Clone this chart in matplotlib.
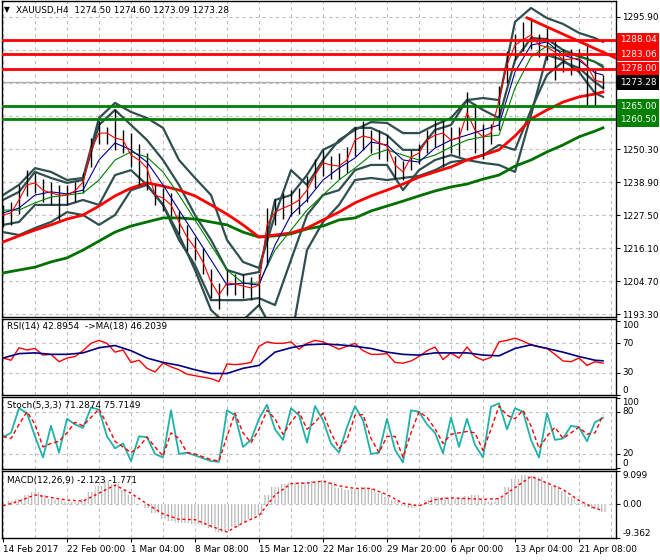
import numpy as np
import matplotlib
matplotlib.use('Agg')
import matplotlib.pyplot as plt
import matplotlib.transforms as mtransforms

plt.rcParams['font.family'] = ['DejaVu Sans']
plt.rcParams['hatch.linewidth'] = 0.9
FS = 6.4

# bar numbers (H4 bars since 14 Feb 2017) of the sampled points
bar_idx = np.arange(0, 301, 4)
ma_idx = np.append(np.arange(0, 297, 8), 300)

# price bars (sampled)
close = [1227.5, 1228.2, 1232.7, 1237.9, 1238.6, 1236.1, 1235.1, 1234.4, 1234.4, 1235.8,
         1238.9, 1250.0, 1255.8, 1255.8, 1254.1, 1253.4, 1248.2, 1246.5, 1243.7, 1234.4,
         1233.4, 1231.0, 1225.1, 1219.9, 1216.1, 1211.3, 1204.4, 1199.9, 1204.0, 1203.7,
         1203.0, 1202.3, 1203.3, 1224.1, 1228.5, 1229.9, 1231.0, 1232.7, 1236.1, 1241.3,
         1245.5, 1244.8, 1244.4, 1246.5, 1253.4, 1254.8, 1254.1, 1252.4, 1251.3, 1244.8,
         1242.4, 1247.5, 1248.9, 1253.4, 1255.1, 1255.8, 1253.4, 1254.1, 1262.7, 1256.9,
         1254.5, 1255.8, 1267.2, 1279.3, 1286.2, 1288.0, 1289.7, 1286.2, 1285.5, 1283.8,
         1281.1, 1281.4, 1281.7, 1279.0, 1274.1, 1273.3]
high = [1231, 1232, 1238, 1243, 1242, 1240, 1239, 1238, 1238, 1239,
        1242, 1254, 1260, 1258, 1264, 1257, 1256, 1252, 1249, 1238,
        1237, 1235, 1229, 1224, 1220, 1216, 1209, 1204, 1209, 1207,
        1207, 1206, 1207, 1230, 1233, 1235, 1236, 1237, 1241, 1247,
        1250, 1248, 1249, 1251, 1258, 1260, 1257, 1257, 1255, 1248,
        1246, 1250, 1252, 1257, 1261, 1261, 1258, 1258, 1270, 1266,
        1259, 1259, 1272, 1284, 1290, 1294, 1295.5, 1290, 1292, 1288,
        1285, 1285, 1285, 1287, 1278, 1276]
low = [1223.5, 1224, 1228, 1234, 1235, 1232, 1231, 1225.8, 1231, 1232,
       1235, 1244, 1252, 1252, 1250, 1249, 1244, 1238, 1236, 1231,
       1229, 1227, 1221, 1215, 1212, 1207, 1199, 1195, 1200, 1200,
       1199, 1198, 1196, 1210, 1224, 1226, 1227, 1228, 1232, 1237,
       1241, 1240, 1240, 1242, 1248, 1250, 1249, 1247, 1246, 1240,
       1239.5, 1243, 1245, 1249, 1251, 1244, 1249, 1248, 1257, 1249,
       1247, 1252, 1257, 1273, 1281, 1284, 1285, 1282, 1281, 1274,
       1277, 1276, 1277, 1265.5, 1265.5, 1271]

# moving averages
ma_blue = [1228.2, 1229.9, 1234.4, 1235.5, 1234.8, 1236.1, 1246.5, 1252.4, 1250.0, 1245.8,
           1237.9, 1229.2, 1220.6, 1212.0, 1203.3, 1204.0, 1203.3, 1217.1, 1227.5, 1232.7,
           1239.6, 1243.7, 1247.2, 1252.7, 1251.7, 1246.5, 1245.8, 1250.6, 1253.4, 1255.1,
           1256.9, 1258.6, 1276.9, 1286.2, 1287.3, 1282.8, 1281.0, 1276.6, 1275.9]
ma_green = [1229.2, 1229.2, 1231.7, 1233.7, 1234.4, 1235.1, 1239.6, 1246.5, 1249.3, 1247.5,
            1242.4, 1234.4, 1225.8, 1217.1, 1208.5, 1204.0, 1204.0, 1215.4, 1222.3, 1229.2,
            1234.4, 1239.6, 1243.7, 1248.2, 1250.0, 1248.2, 1246.5, 1248.2, 1251.0, 1253.4,
            1254.5, 1255.1, 1271.4, 1282.1, 1285.9, 1283.8, 1282.1, 1280.4, 1279.3]
ma_red_slow = [1218.2, 1220.3, 1222.3, 1224.1, 1226.1, 1227.5, 1230.6, 1234.1, 1236.8, 1238.6,
               1237.5, 1236.1, 1234.1, 1231.0, 1227.8, 1224.1, 1219.9, 1220.6, 1221.3, 1223.0,
               1225.8, 1228.5, 1231.7, 1234.1, 1236.1, 1238.2, 1240.6, 1242.4, 1244.1, 1246.5,
               1248.2, 1250.0, 1254.8, 1260.7, 1263.8, 1266.5, 1268.3, 1269.3, 1270.0]
ma_green_slow = [1207.5, 1208.5, 1209.5, 1211.3, 1212.7, 1215.4, 1218.5, 1221.6, 1223.7, 1225.1,
                 1226.5, 1226.5, 1226.1, 1225.1, 1224.1, 1221.6, 1219.9, 1220.3, 1221.0, 1222.7,
                 1223.7, 1225.8, 1226.5, 1228.9, 1230.6, 1232.3, 1234.1, 1235.8, 1237.2, 1238.2,
                 1239.9, 1241.3, 1244.4, 1246.5, 1249.3, 1251.7, 1254.5, 1256.5, 1257.6]

# bollinger bands (inner and outer)
bb1_up = [1232.7, 1235.5, 1242.4, 1240.3, 1238.6, 1239.6, 1258.6, 1263.8, 1258.6, 1253.4,
          1246.5, 1237.9, 1227.5, 1218.9, 1208.5, 1206.8, 1207.8, 1232.7, 1234.4, 1241.3,
          1250.0, 1252.7, 1257.6, 1257.6, 1255.1, 1250.0, 1250.0, 1256.9, 1258.6, 1267.2,
          1263.8, 1261.0, 1281.0, 1288.6, 1288.3, 1284.5, 1282.4, 1280.4, 1278.6]
bb1_dn = [1224.1, 1225.1, 1231.0, 1231.0, 1231.0, 1232.7, 1231.0, 1241.3, 1243.0, 1237.9,
          1231.0, 1218.9, 1210.2, 1198.1, 1198.1, 1198.1, 1198.8, 1196.4, 1212.0, 1227.5,
          1234.4, 1236.1, 1243.0, 1244.8, 1244.8, 1236.1, 1243.0, 1246.5, 1248.2, 1246.5,
          1248.2, 1251.7, 1250.0, 1263.8, 1275.9, 1280.4, 1278.3, 1273.4, 1271.4]
bb2_up = [1234.4, 1237.9, 1243.7, 1242.4, 1239.6, 1240.3, 1261.0, 1266.2, 1263.1, 1261.0,
          1257.6, 1246.5, 1240.3, 1234.4, 1218.9, 1211.3, 1209.2, 1227.5, 1243.0, 1237.9,
          1246.5, 1253.4, 1256.9, 1259.6, 1259.3, 1255.8, 1255.8, 1258.6, 1261.0, 1267.2,
          1267.9, 1267.2, 1294.2, 1299.0, 1295.5, 1293.5, 1290.4, 1288.6, 1287.3]
bb2_dn = [1221.6, 1220.6, 1223.0, 1225.1, 1228.5, 1227.5, 1224.1, 1227.5, 1236.1, 1237.9,
          1231.0, 1220.6, 1208.5, 1194.7, 1189.5, 1191.2, 1196.4, 1186.1, 1184.3, 1215.4,
          1225.1, 1231.0, 1239.6, 1240.3, 1239.6, 1240.3, 1241.0, 1243.0, 1245.8, 1246.5,
          1245.5, 1244.8, 1242.4, 1262.0, 1282.8, 1281.0, 1276.9, 1269.6, 1268.3]

# levels
res_levels = [1288.04, 1283.06, 1278.00]
sup_levels = [1265.00, 1260.50]
last_price = 1273.28
trend_bars = [262, 306.5]
trend_price = [1295.6, 1281.7]
price_ticks = [1295.9, 1284.5, 1273.1, 1261.7, 1250.3, 1238.9, 1227.5, 1216.1, 1204.7, 1193.3]
price_labels = ['1295.90', '', '', '', '1250.30', '1238.90', '1227.50', '1216.10', '1204.70', '1193.30']

# RSI(14) and its MA(18)
rsi = [50, 47, 64, 61, 63, 54, 55, 45, 50, 52,
       60, 70, 74, 70, 58, 61, 44, 47, 36, 31,
       43, 38, 34, 28, 26, 24, 22, 18, 42, 41,
       42, 44, 66, 72, 70, 70, 72, 62, 70, 74,
       72, 67, 62, 66, 70, 60, 55, 55, 56, 44,
       43, 46, 52, 60, 65, 48, 57, 50, 65, 52,
       47, 51, 72, 74, 77, 73, 68, 65, 63, 55,
       46, 45, 50, 40, 45, 42.9]
rsi_ma = [50, 56, 57, 55, 55, 57, 64, 67, 60, 50,
          44, 40, 34, 29, 29, 36, 40, 58, 64, 68,
          69, 68, 66, 63, 58, 55, 54, 57, 57, 57,
          54, 53, 63, 68, 63, 58, 52, 47, 46.2]

# Stochastic(5,3,3)
stoch_k = [44, 50, 85, 78, 45, 15, 60, 22, 70, 62,
           57, 86, 83, 45, 28, 35, 10, 45, 44, 20,
           15, 82, 20, 22, 18, 14, 10, 9, 82, 75,
           30, 40, 70, 90, 55, 40, 85, 75, 36, 88,
           68, 35, 22, 58, 88, 68, 20, 22, 70, 26,
           8, 82, 80, 62, 50, 21, 72, 30, 70, 33,
           15, 87, 92, 55, 85, 80, 40, 15, 78, 40,
           42, 60, 58, 38, 65, 71.3]
stoch_d = [45, 42, 62, 80, 62, 30, 35, 38, 50, 65,
           60, 72, 84, 62, 38, 30, 22, 30, 44, 30,
           17, 50, 42, 22, 20, 16, 12, 10, 45, 78,
           50, 36, 55, 82, 70, 48, 65, 80, 55, 65,
           78, 50, 28, 40, 75, 76, 42, 22, 45, 45,
           15, 50, 80, 72, 56, 35, 48, 50, 52, 50,
           25, 55, 88, 75, 70, 82, 60, 28, 45, 58,
           42, 50, 58, 48, 50, 75.7]

# MACD(12,26,9)
macd_hist = [0.0, 0.8, 1.3, 2.5, 3.3, 2.4, 1.5, 1.2, 0.6, 0.5,
             1.5, 3.4, 5.0, 6.3, 5.5, 4.0, 2.5, 0.0, -1.0, -2.5,
             -4.2, -4.8, -5.2, -5.3, -5.6, -5.9, -6.6, -7.7, -7.3, -6.3,
             -5.2, -4.0, -3.0, 2.5, 4.8, 5.5, 5.8, 6.0, 6.2, 6.3,
             6.5, 6.0, 4.3, 3.8, 4.2, 4.7, 4.5, 3.0, 2.0, 1.0,
             -0.5, -1.2, -0.5, 1.2, 1.8, 2.0, 1.5, 1.6, 2.2, 2.6,
             1.5, 0.5, 1.6, 4.8, 7.0, 7.9, 7.8, 7.4, 6.0, 5.0,
             3.6, 1.8, 0.2, -0.8, -1.5, -2.123]
macd_signal = [-0.5, 0.8, 2.5, 1.8, 1.1, 0.8, 3.0, 5.2, 3.0, 0.0,
               -2.7, -4.2, -4.3, -6.1, -7.7, -5.2, -3.2, 2.5, 5.6, 5.8,
               6.3, 5.0, 4.3, 4.3, 2.6, 0.2, -0.5, 1.2, 1.7, 1.5,
               1.3, 1.5, 4.5, 7.6, 5.8, 4.0, 1.0, -1.2, -1.771]

date_bars = [0, 32, 64, 96, 128, 160, 192, 224, 256, 288]
date_labels = ['14 Feb 2017', '22 Feb 00:00', '1 Mar 04:00', '8 Mar 08:00', '15 Mar 12:00',
               '22 Mar 16:00', '29 Mar 20:00', '6 Apr 00:00', '13 Apr 04:00', '21 Apr 08:00']

# ---- layout in pixels ----
W, H = 660, 560
fig = plt.figure(figsize=(W / 100, H / 100), dpi=100)
fig.patch.set_facecolor('white')


def panel(top, bottom):
    return fig.add_axes([2 / W, 1 - bottom / H, 614 / W, (bottom - top) / H])


ax = panel(1, 317)
ax_rsi = panel(319, 395)
ax_sto = panel(397, 469)
ax_macd = panel(471, 538)

grid_kw = dict(color='#c0c0c0', lw=0.8, ls=(0, (3, 3)), zorder=0)
for a in (ax, ax_rsi, ax_sto, ax_macd):
    a.set_xlim(-0.5, 306.5)
    a.yaxis.tick_right()
    a.tick_params(axis='y', direction='out', length=3, width=0.8, labelsize=FS, pad=1.5)
    a.tick_params(axis='x', bottom=False, labelbottom=False)
    for s in a.spines.values():
        s.set_linewidth(1.0)
        s.set_color('black')
    for v in range(0, 306, 16):
        a.axvline(v, **grid_kw)

# ---- main price panel ----
ax.set_ylim(1192.28, 1301.42)
ax.set_yticks(price_ticks)
ax.set_yticklabels(price_labels)
for p in price_ticks:
    ax.axhline(p, **grid_kw)
ax.axhline(last_price, color='#b0b0b0', lw=1, zorder=1)

band_c = '#2f4f4f'
for band in (bb2_up, bb2_dn, bb1_up, bb1_dn):
    ax.plot(ma_idx, band, color=band_c, lw=1.6, zorder=2)
ax.plot(ma_idx, ma_green_slow, color='#007000', lw=2.0, zorder=3)
ax.plot(ma_idx, ma_red_slow, color='#ff0000', lw=2.0, zorder=3)
ax.vlines(bar_idx, low, high, color='black', lw=1, zorder=4)
ax.plot(ma_idx, ma_green, color='#008000', lw=0.8, zorder=5)
ax.plot(ma_idx, ma_blue, color='#00008b', lw=0.8, zorder=5)
ax.plot(bar_idx, close, color='#ff0000', lw=0.8, zorder=5)

for lv in res_levels:
    ax.axhline(lv, color='#ff0000', lw=2, zorder=6)
for lv in sup_levels:
    ax.axhline(lv, color='#008000', lw=2, zorder=6)
ax.plot(trend_bars, trend_price, color='#ff0000', lw=2, zorder=6)

trans = mtransforms.blended_transform_factory(ax.transAxes, ax.transData)
box_levels = res_levels + [last_price] + sup_levels
box_colors = ['#ff0000'] * 3 + ['black'] + ['#008000'] * 2
for lv, c in zip(box_levels, box_colors):
    ax.text(1.006, lv, f'{lv:.2f}', transform=trans, color='white', fontsize=FS,
            va='center', ha='left', clip_on=False, zorder=10,
            bbox=dict(boxstyle='square,pad=0.3', fc=c, ec='none'))

fig.text(4 / W, 1 - 10 / H, '\u25bc', fontsize=5.5, va='center', ha='left')
fig.text(16 / W, 1 - 10 / H, 'XAUUSD,H4  1274.50 1274.60 1273.09 1273.28',
         fontsize=FS, va='center', ha='left')

# ---- RSI ----
ax_rsi.set_ylim(-0.3, 103.1)
ax_rsi.set_yticks([100, 70, 30, 0])
ax_rsi.set_yticklabels(['100', '70', '30', '0'])
for lab, va in zip(ax_rsi.get_yticklabels(), ['top', 'center', 'center', 'bottom']):
    lab.set_va(va)
for lv in (70, 30):
    ax_rsi.axhline(lv, **grid_kw)
ax_rsi.plot(bar_idx, rsi, color='#ff0000', lw=1)
ax_rsi.plot(ma_idx, rsi_ma, color='#000080', lw=1.2)
ax_rsi.text(0.008, 0.9, 'RSI(14) 42.8954  ->MA(18) 46.2039', transform=ax_rsi.transAxes,
            fontsize=FS, va='center', ha='left')

# ---- Stochastic ----
ax_sto.set_ylim(-1.3, 100.9)
ax_sto.set_yticks([100, 80, 20, 0])
ax_sto.set_yticklabels(['100', '80', '20', '0'])
for lab, va in zip(ax_sto.get_yticklabels(), ['top', 'center', 'center', 'bottom']):
    lab.set_va(va)
for lv in (80, 20):
    ax_sto.axhline(lv, **grid_kw)
ax_sto.plot(bar_idx, stoch_k, color='#20b2aa', lw=1.3)
ax_sto.plot(bar_idx, stoch_d, color='#ff0000', lw=1, ls=(0, (3, 2)))
ax_sto.text(0.008, 0.88, 'Stoch(5,3,3) 71.2874 75.7149', transform=ax_sto.transAxes,
            fontsize=FS, va='center', ha='left')

# ---- MACD ----
ax_macd.set_ylim(-9.362, 9.099)
ax_macd.set_yticks([9.099, 0, -9.362])
ax_macd.set_yticklabels(['9.099', '0.00', '-9.362'])
for lab, va in zip(ax_macd.get_yticklabels(), ['top', 'center', 'bottom']):
    lab.set_va(va)
ax_macd.axhline(0, **grid_kw)
ax_macd.bar(bar_idx, macd_hist, width=4.0, facecolor='white', edgecolor='#b8b8b8',
            hatch='|||||', linewidth=0, zorder=1)
ax_macd.plot(ma_idx, macd_signal, color='#ff0000', lw=1, ls=(0, (2, 2)), zorder=2)
ax_macd.text(0.008, 0.86, 'MACD(12,26,9) -2.123 -1.771', transform=ax_macd.transAxes,
             fontsize=FS, va='center', ha='left')
ax_macd.tick_params(axis='x', bottom=True, labelbottom=True, direction='out',
                    length=3, width=0.8, labelsize=FS, pad=2)
ax_macd.set_xticks(date_bars)
ax_macd.set_xticklabels(date_labels, ha='left')

fig.savefig('out.png', dpi=100)
